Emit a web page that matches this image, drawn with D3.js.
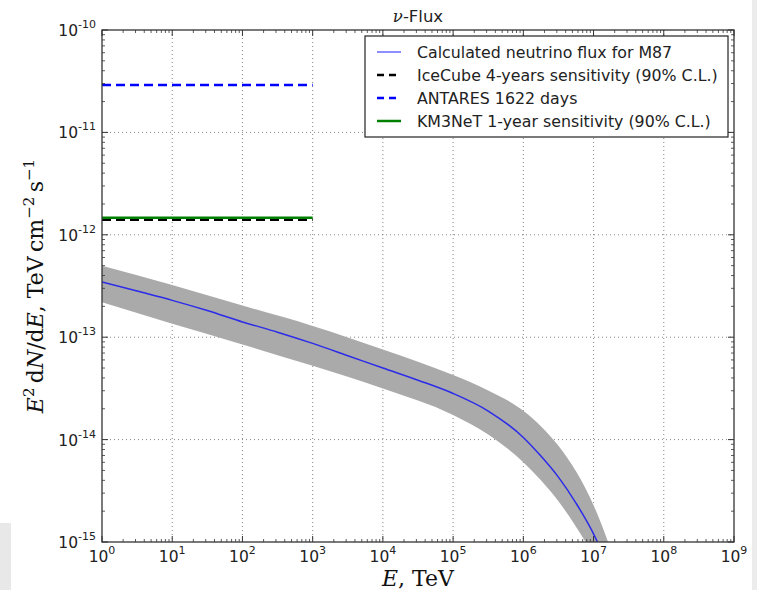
<!DOCTYPE html>
<html>
<head>
<meta charset="utf-8">
<script src="https://cdn.jsdelivr.net/npm/d3@7"></script>
<style>
  body { margin: 0; background: #fff; }
  svg { display: block; }
</style>
</head>
<body>
<svg id="chart" width="757" height="590"></svg>
<script>
// model curve for M87 (TeV, TeV cm^-2 s^-1)
const fluxEnergy = [1, 3.16, 10, 31.6, 100, 316, 1e3, 3.16e3, 1e4, 3.16e4, 1e5, 3.16e5, 1e6, 1.78e6, 3.16e6, 5.62e6, 1e7, 1.175e7, 1.41e7];
const fluxValue  = [3.47e-13, 2.82e-13, 2.29e-13, 1.82e-13, 1.41e-13, 1.12e-13, 8.7e-14, 6.6e-14, 5.0e-14, 3.8e-14, 2.82e-14, 1.9e-14, 1.05e-14, 6.9e-15, 4.3e-15, 2.4e-15, 1.2e-15, 9.5e-16, 7.2e-16];

// uncertainty band
const bandEnergy = [1, 10, 100, 1e3, 1e4, 1e5, 3.16e5, 1e6, 1.78e6, 3.16e6, 5.62e6, 1e7, 1.78e7];
const bandUpper  = [5.0e-13, 3.24e-13, 2.04e-13, 1.29e-13, 7.6e-14, 4.27e-14, 3.02e-14, 1.91e-14, 1.35e-14, 8.7e-15, 4.9e-15, 2.29e-15, 8.3e-16];
const bandLower  = [2.19e-13, 1.35e-13, 8.5e-14, 5.25e-14, 3.16e-14, 1.74e-14, 1.12e-14, 6.0e-15, 4.0e-15, 2.5e-15, 1.41e-15, 7.1e-16, 2.5e-16];

// sensitivities, flat from 1 TeV to 1 PeV
const sensRange = [1, 1e3];
const iceCube = 1.40e-12;
const antares = 2.9e-11;
const km3net = 1.47e-12;

const legendLabels = [
  "Calculated neutrino flux for M87",
  "IceCube 4-years sensitivity (90% C.L.)",
  "ANTARES 1622 days",
  "KM3NeT 1-year sensitivity (90% C.L.)"
];
const xTickExp = [0, 1, 2, 3, 4, 5, 6, 7, 8, 9];
const yTickExp = [-15, -14, -13, -12, -11, -10];

const margin = {top: 30, right: 23, bottom: 48, left: 102};
const W = 757, H = 590;

const x = d3.scaleLog().domain([1, 1e9]).range([margin.left, W - margin.right]);
const y = d3.scaleLog().domain([1e-15, 1e-10]).range([H - margin.bottom, margin.top]);

const svg = d3.select("#chart");

// screenshot edges
svg.append("rect").attr("x", 752).attr("y", 0).attr("width", 5).attr("height", H).attr("fill", "#ececec");
svg.append("rect").attr("x", 0).attr("y", 523).attr("width", 11).attr("height", 67).attr("fill", "#e8e8e8");

const x0 = x.range()[0], x1 = x.range()[1], y0 = y.range()[1], y1 = y.range()[0];

svg.append("clipPath").attr("id", "plotclip")
  .append("rect").attr("x", x0).attr("y", y0).attr("width", x1 - x0).attr("height", y1 - y0);

// grid
const grid = svg.append("g").attr("stroke", "#000").attr("stroke-width", 0.8)
  .attr("stroke-dasharray", "1,3").attr("opacity", 0.6);
xTickExp.slice(1, -1).forEach(e => {
  grid.append("line").attr("x1", x(10 ** e)).attr("x2", x(10 ** e)).attr("y1", y0).attr("y2", y1);
});
yTickExp.slice(1, -1).forEach(e => {
  grid.append("line").attr("x1", x0).attr("x2", x1).attr("y1", y(10 ** e)).attr("y2", y(10 ** e));
});

const plot = svg.append("g").attr("clip-path", "url(#plotclip)");

const band = d3.area()
  .x((d, i) => x(bandEnergy[i]))
  .y0((d, i) => y(bandLower[i]))
  .y1((d, i) => y(bandUpper[i]))
  .curve(d3.curveMonotoneX);
plot.append("path").attr("d", band(bandEnergy)).attr("fill", "#aaaaaa");

const line = d3.line()
  .x((d, i) => x(fluxEnergy[i]))
  .y((d, i) => y(fluxValue[i]))
  .curve(d3.curveMonotoneX);
plot.append("path").attr("d", line(fluxEnergy)).attr("fill", "none")
  .attr("stroke", "#0000ff").attr("stroke-opacity", 0.75).attr("stroke-width", 1.5);

function hline(v, color, dash) {
  plot.append("line")
    .attr("x1", x(sensRange[0])).attr("x2", x(sensRange[1]))
    .attr("y1", y(v)).attr("y2", y(v))
    .attr("stroke", color).attr("stroke-width", 2.5)
    .attr("stroke-dasharray", dash);
}
hline(antares, "#0000ff", "9,5");
hline(iceCube, "#000000", "9,5");
hline(km3net, "#008000", null);

// frame + ticks
const ax = svg.append("g").attr("stroke", "#333").attr("fill", "none");
ax.append("rect").attr("x", x0).attr("y", y0).attr("width", x1 - x0).attr("height", y1 - y0)
  .attr("stroke-width", 1.3);

const minors = [2, 3, 4, 5, 6, 7, 8, 9];
xTickExp.forEach(e => {
  const px = x(10 ** e);
  ax.append("line").attr("x1", px).attr("x2", px).attr("y1", y1).attr("y2", y1 - 6).attr("stroke-width", 1);
  ax.append("line").attr("x1", px).attr("x2", px).attr("y1", y0).attr("y2", y0 + 6).attr("stroke-width", 1);
  if (e < 9) minors.forEach(m => {
    const mx = x(m * 10 ** e);
    ax.append("line").attr("x1", mx).attr("x2", mx).attr("y1", y1).attr("y2", y1 - 3).attr("stroke-width", 0.8);
    ax.append("line").attr("x1", mx).attr("x2", mx).attr("y1", y0).attr("y2", y0 + 3).attr("stroke-width", 0.8);
  });
});
yTickExp.forEach(e => {
  const py = y(10 ** e);
  ax.append("line").attr("x1", x0).attr("x2", x0 + 6).attr("y1", py).attr("y2", py).attr("stroke-width", 1);
  ax.append("line").attr("x1", x1).attr("x2", x1 - 6).attr("y1", py).attr("y2", py).attr("stroke-width", 1);
  if (e < -10) minors.forEach(m => {
    const my = y(m * 10 ** e);
    ax.append("line").attr("x1", x0).attr("x2", x0 + 3).attr("y1", my).attr("y2", my).attr("stroke-width", 0.8);
    ax.append("line").attr("x1", x1).attr("x2", x1 - 3).attr("y1", my).attr("y2", my).attr("stroke-width", 0.8);
  });
});

// tick labels
const font = "DejaVu Sans, sans-serif";
xTickExp.forEach(e => {
  const t = svg.append("text").attr("x", x(10 ** e)).attr("y", y1 + 20)
    .attr("text-anchor", "middle").attr("font-family", font).attr("font-size", 15.5).attr("fill", "#222");
  t.append("tspan").text("10");
  t.append("tspan").attr("dy", -8).attr("font-size", 11).text(e);
});
yTickExp.forEach(e => {
  const t = svg.append("text").attr("x", x0 - 6).attr("y", y(10 ** e) + 6)
    .attr("text-anchor", "end").attr("font-family", font).attr("font-size", 15.5).attr("fill", "#222");
  t.append("tspan").text("10");
  t.append("tspan").attr("dy", -8).attr("font-size", 11).text("-" + Math.abs(e));
});

// title
const title = svg.append("text").attr("x", (x0 + x1) / 2).attr("y", 22).attr("text-anchor", "middle")
  .attr("font-family", font).attr("font-size", 16.5).attr("fill", "#222");
title.append("tspan").attr("font-family", "DejaVu Serif, serif").attr("font-style", "italic").text("ν");
title.append("tspan").text("-Flux");

// axis labels
const serif = "DejaVu Serif, Liberation Serif, serif";
const xl = svg.append("text").attr("x", (x0 + x1) / 2).attr("y", 586).attr("text-anchor", "middle")
  .attr("font-family", serif).attr("font-size", 22).attr("fill", "#111");
xl.append("tspan").attr("font-style", "italic").text("E");
xl.append("tspan").text(", TeV");

const yl = svg.append("text").attr("transform", `translate(43, ${(y0 + y1) / 2}) rotate(-90)`)
  .attr("text-anchor", "middle").attr("font-family", serif).attr("font-size", 22).attr("fill", "#111");
yl.append("tspan").attr("font-style", "italic").text("E");
yl.append("tspan").attr("dy", -9).attr("font-size", 15).text("2");
yl.append("tspan").attr("dy", 9).text("\u2009d");
yl.append("tspan").attr("font-style", "italic").text("N");
yl.append("tspan").text("/d");
yl.append("tspan").attr("font-style", "italic").text("E");
yl.append("tspan").text(", TeV\u2009cm");
yl.append("tspan").attr("dy", -9).attr("font-size", 15).text("−2");
yl.append("tspan").attr("dy", 9).text("\u2009s");
yl.append("tspan").attr("dy", -9).attr("font-size", 15).text("−1");

// legend
const lg = svg.append("g");
lg.append("rect").attr("x", 365).attr("y", 36).attr("width", 363).attr("height", 101)
  .attr("fill", "#fff").attr("stroke", "#222").attr("stroke-width", 1.2);
const legendStyle = [
  {color: "#0000ff", opacity: 0.6, width: 1.5, dash: null},
  {color: "#000000", opacity: 1, width: 2.5, dash: "7,5"},
  {color: "#0000ff", opacity: 1, width: 2.5, dash: "7,5"},
  {color: "#008000", opacity: 1, width: 2.5, dash: null}
];
legendLabels.forEach((lab, i) => {
  const ly = 52 + i * 23;
  const s = legendStyle[i];
  lg.append("line").attr("x1", 377).attr("x2", 401).attr("y1", ly).attr("y2", ly)
    .attr("stroke", s.color).attr("stroke-opacity", s.opacity).attr("stroke-width", s.width)
    .attr("stroke-dasharray", s.dash);
  lg.append("text").attr("x", 417).attr("y", ly + 5.5).attr("font-family", font).attr("font-size", 15.8)
    .attr("fill", "#222").text(lab);
});
</script>
</body>
</html>
